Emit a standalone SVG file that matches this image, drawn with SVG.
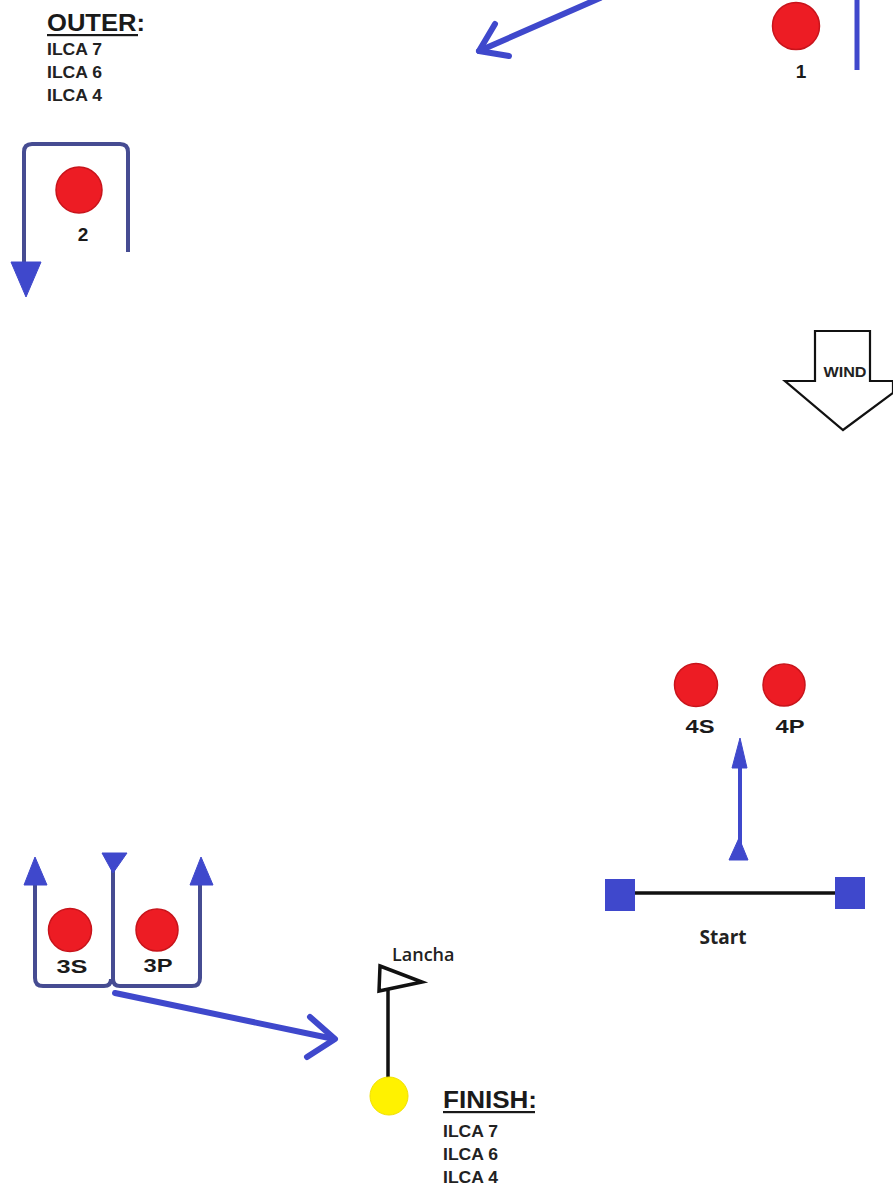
<svg xmlns="http://www.w3.org/2000/svg" width="893" height="1191" viewBox="0 0 893 1191">
<style>
.bg{fill:#ffffff}
.mark{fill:#ed1c24;stroke:#c8141b;stroke-width:1.5}
.lbl{font-family:"Liberation Sans",Arial,sans-serif;font-weight:bold;font-size:19px;fill:#1a1a1a;text-anchor:middle}
.list{font-family:"Liberation Sans",Arial,sans-serif;font-weight:bold;font-size:17px;fill:#222}
.head{font-family:"Liberation Sans",Arial,sans-serif;font-weight:bold;font-size:24px;fill:#1a1a1a}
.route{fill:none;stroke:#464c92;stroke-width:4;stroke-linejoin:round;stroke-linecap:butt}
.thick{fill:none;stroke:#3f48cc;stroke-width:6;stroke-linecap:round;stroke-linejoin:round}
.tri{fill:#3f48cc;stroke:#3f48cc;stroke-width:1}
.sq{fill:#3f48cc}
</style>
<rect class="bg" x="0" y="0" width="893" height="1191"/>

<g id="outer-legend">
<text class="head" x="47" y="31" textLength="98" lengthAdjust="spacingAndGlyphs">OUTER:</text>
<rect x="47" y="34" width="91" height="2.2" fill="#1a1a1a"/>
<text class="list" x="47" y="55" textLength="55" lengthAdjust="spacingAndGlyphs">ILCA 7</text>
<text class="list" x="47" y="78" textLength="55" lengthAdjust="spacingAndGlyphs">ILCA 6</text>
<text class="list" x="47" y="101" textLength="55" lengthAdjust="spacingAndGlyphs">ILCA 4</text>
</g>

<g id="mark-1">
<circle class="mark" cx="796" cy="26" r="23.5"/>
<text class="lbl" x="801" y="78">1</text>
</g>

<g id="mark-2">
<circle class="mark" cx="79" cy="190" r="23"/>
<text class="lbl" x="83" y="241">2</text>
</g>

<g id="wind">
<path d="M815,331 L870,331 L870,381 L893,381 L893,393 L843,430 L785,381 L815,381 Z" fill="#ffffff" stroke="#111" stroke-width="2.2" stroke-linejoin="miter"/>
<text x="845" y="377" font-family="Liberation Sans,Arial,sans-serif" font-weight="bold" font-size="14" fill="#222" text-anchor="middle" textLength="43" lengthAdjust="spacingAndGlyphs">WIND</text>
</g>

<g id="mark-4S">
<circle class="mark" cx="696" cy="685" r="21.5"/>
<text class="lbl" x="700" y="733" textLength="29" lengthAdjust="spacingAndGlyphs">4S</text>
</g>
<g id="mark-4P">
<circle class="mark" cx="784" cy="685" r="21"/>
<text class="lbl" x="790" y="733" textLength="29" lengthAdjust="spacingAndGlyphs">4P</text>
</g>

<g id="start-line">
<line x1="635" y1="893" x2="836" y2="893" stroke="#111" stroke-width="3.5"/>
<rect class="sq" x="605" y="879" width="30" height="32"/>
<rect class="sq" x="835" y="877" width="30" height="32"/>
<text x="723" y="944" font-family="Open Sans,Liberation Sans,sans-serif" font-weight="bold" font-size="19" fill="#222" text-anchor="middle">Start</text>
</g>

<g id="mark-3S">
<circle class="mark" cx="70" cy="930" r="21.5"/>
<text class="lbl" x="72" y="973" textLength="31" lengthAdjust="spacingAndGlyphs">3S</text>
</g>
<g id="mark-3P">
<circle class="mark" cx="157" cy="930" r="21"/>
<text class="lbl" x="158" y="972" textLength="29" lengthAdjust="spacingAndGlyphs">3P</text>
</g>

<g id="finish">
<line x1="388" y1="1080" x2="388" y2="988" stroke="#111" stroke-width="3.5"/>
<path d="M380,966 L422,982 L379,991 Z" fill="#ffffff" stroke="#111" stroke-width="3.5" stroke-linejoin="miter"/>
<circle cx="389" cy="1096" r="19" fill="#fff200" stroke="#f0e000" stroke-width="1"/>
<text x="392" y="961" font-family="Open Sans,Liberation Sans,sans-serif" font-weight="600" font-size="18" fill="#222">Lancha</text>
</g>

<g id="finish-legend">
<text class="head" x="443" y="1108" textLength="94" lengthAdjust="spacingAndGlyphs">FINISH:</text>
<rect x="443" y="1111" width="92" height="2.2" fill="#1a1a1a"/>
<text class="list" x="443" y="1137" textLength="55" lengthAdjust="spacingAndGlyphs">ILCA 7</text>
<text class="list" x="443" y="1160" textLength="55" lengthAdjust="spacingAndGlyphs">ILCA 6</text>
<text class="list" x="443" y="1183" textLength="55" lengthAdjust="spacingAndGlyphs">ILCA 4</text>
</g>

<g id="connectors">
<path class="thick" d="M600,-2 L479,51"/>
<path class="thick" d="M495,24 L479,51 L509,56"/>
<line x1="857" y1="0" x2="857" y2="70" stroke="#3f48cc" stroke-width="5"/>
<path class="route" d="M128,252 L128,152 Q128,144 120,144 L32,144 Q24,144 24,152 L24,265"/>
<path class="tri" d="M11,262 L41,262 L26,297 Z"/>
<line x1="740" y1="860" x2="740" y2="752" stroke="#3f48cc" stroke-width="4"/>
<path class="tri" d="M729,860 L748,860 L739,838 Z"/>
<path class="tri" d="M732,768 L747,768 L740,738 Z"/>
<path class="route" d="M35,883 L35,978 Q35,986 43,986 L104,986 Q111,986 111,979"/>
<path class="route" d="M113,868 L113,979 Q113,986 120,986 L192,986 Q200,986 200,978 L200,883"/>
<path class="tri" d="M24,885 L47,885 L35,857 Z"/>
<path class="tri" d="M190,885 L213,885 L201,857 Z"/>
<path class="tri" d="M102,853 L127,853 L113,873 Z"/>
<path class="thick" d="M115,993 L334,1039"/>
<path class="thick" d="M310,1017 L335,1039 L307,1057"/>
</g>
</svg>
